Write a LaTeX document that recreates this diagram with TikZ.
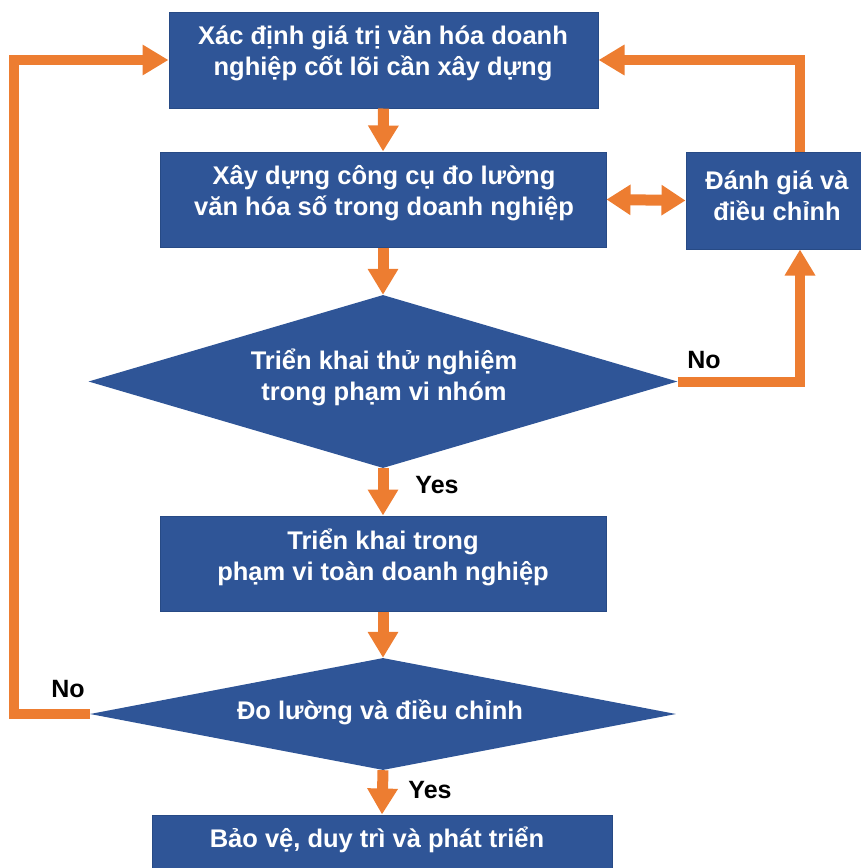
\documentclass[tikz,border=0pt]{standalone}
\usepackage{fontspec}
\setmainfont{Liberation Sans}
\usetikzlibrary{arrows.meta,shapes.geometric}
\definecolor{boxblue}{HTML}{2F5597}
\definecolor{boxedge}{HTML}{274A85}
\definecolor{arrorange}{HTML}{ED7D31}
\tikzset{
  box/.style={rectangle, fill=boxblue, draw=boxedge, line width=1pt, inner sep=0pt},
  dia/.style={diamond, fill=boxblue, inner sep=0pt},
  txt/.style={text=white, font=\fontsize{25.5}{31}\selectfont\bfseries, align=center, inner sep=0pt},
  lbl/.style={text=black, font=\fontsize{25}{27}\selectfont\bfseries, inner sep=0pt},
  flow/.style={draw=arrorange, line width=11pt, -{Triangle[width=29pt,length=26pt]}},
  loop/.style={draw=arrorange, line width=10pt, line join=miter, -{Triangle[width=29pt,length=26pt]}},
  both/.style={draw=arrorange, line width=11pt, {Triangle[width=29pt,length=24pt]}-{Triangle[width=29pt,length=24pt]}},
}
\begin{document}
\begin{tikzpicture}[x=1pt,y=-1pt]
\useasboundingbox (0,0) rectangle (861,868);
% boxes
\node[box, minimum width=429pt, minimum height=96pt] (b1) at (383.5,60) {};
\node[txt] (t1) at (383,53) {Xác định giá trị văn hóa doanh\\nghiệp cốt lõi cần xây dựng};
\node[box, minimum width=446pt, minimum height=95pt] (b2) at (383,199.5) {};
\node[txt] (t2) at (384,193) {Xây dựng công cụ đo lường\\văn hóa số trong doanh nghiệp};
\node[box, minimum width=178pt, minimum height=97pt] (b3) at (775,200.5) {};
\node[txt] (t3) at (777,196) {Đánh giá và\\điều chỉnh};
\node[dia, minimum width=589pt, minimum height=173pt] (d1) at (383,381.5) {};
\node[txt] (t4) at (384,377) {Triển khai thử nghiệm\\trong phạm vi nhóm};
\node[box, minimum width=446pt, minimum height=95pt] (b4) at (383,563.5) {};
\node[txt] (t5) at (383,557) {Triển khai trong\\phạm vi toàn doanh nghiệp};
\node[dia, minimum width=586pt, minimum height=112pt] (d2) at (383,714) {};
\node[txt] (t6) at (380,712) {Đo lường và điều chỉnh};
\node[box, minimum width=460pt, minimum height=70pt] (b5) at (382,850) {};
\node[txt] (t7) at (377,840) {Bảo vệ, duy trì và phát triển};
% helper coordinates
\coordinate (cr) at (800,0);
\coordinate (cl) at (14,0);
% vertical flow
\draw[flow] (b1.south) -- (b2.north);
\draw[flow] (b2.south) -- (d1.north);
\draw[flow] (d1.south) -- (b4.north);
\draw[flow] (b4.south) -- (d2.north);
\draw[flow] (d2.south) -- (b5.north);
% double arrow
\draw[both] (b2.east) -- (b3.west);
% No loop from d1 to b3
\draw[loop] (d1.east) -- (d1.east -| cr) -- (b3.south -| cr);
% b3 to b1
\draw[loop] (b3.north -| cr) -- (b1.east -| cr) -- (b1.east);
% No loop from d2 to b1
\draw[loop] (d2.west) -- (d2.west -| cl) -- (b1.west -| cl) -- (b1.west);
% labels
\node[lbl] (l1) at (704,360) {No};
\node[lbl] (l2) at (437,485) {Yes};
\node[lbl] (l3) at (68,689) {No};
\node[lbl] (l4) at (430,790) {Yes};
\end{tikzpicture}
\end{document}
